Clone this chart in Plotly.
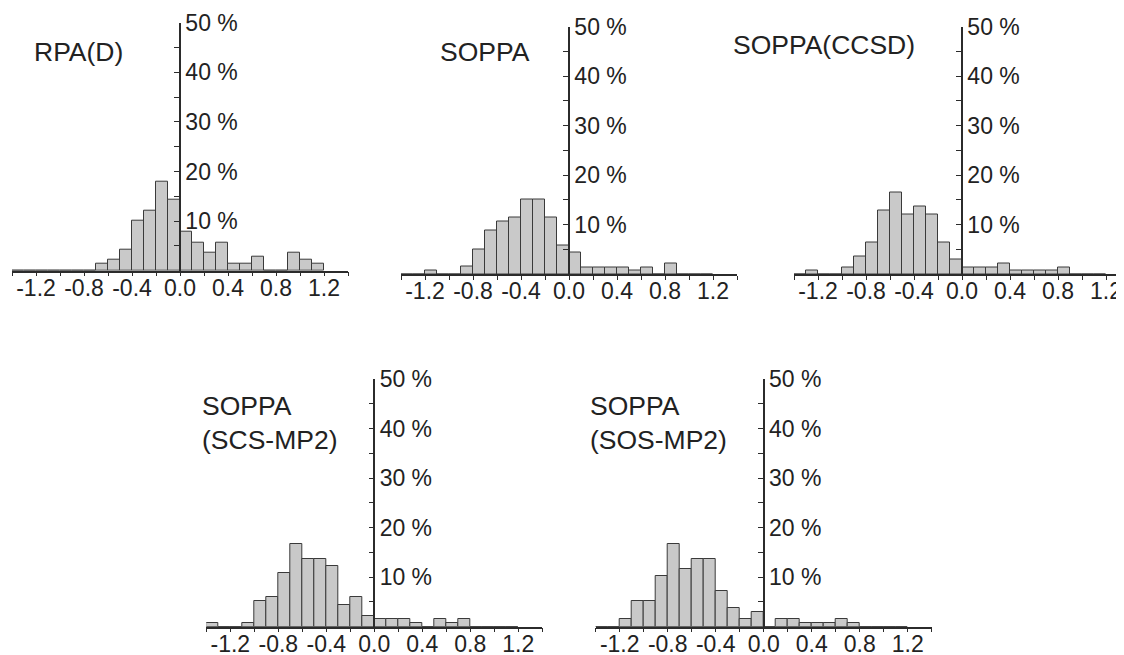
import plotly.graph_objects as go

# Bin centres (bin width 0.1, from -1.4 to 1.2)
BIN_CENTERS = [round(-1.35 + 0.1 * i, 2) for i in range(26)]
BIN_WIDTH = 0.1

TITLES = ["RPA(D)", "SOPPA", "SOPPA(CCSD)", "SOPPA<br>(SCS-MP2)", "SOPPA<br>(SOS-MP2)"]

# percentages per bin
RPA_D = [0, 0, 0, 0, 0, 0, 0, 1.4, 2.2, 4.3, 10.1, 12.1, 17.9, 14.3,
         7.9, 5.7, 3.6, 5.7, 1.4, 1.4, 2.9, 0, 0, 3.7, 2.2, 1.4]
SOPPA = [0, 0, 0.7, 0, 0, 1.5, 5.0, 8.7, 10.7, 11.5, 15.0, 15.0, 11.5, 5.7,
         4.3, 1.4, 1.4, 1.4, 1.4, 0.7, 1.4, 0, 2.1, 0, 0, 0]
SOPPA_CCSD = [0, 0.7, 0, 0, 1.4, 3.6, 6.4, 12.9, 16.5, 12.1, 13.6, 12.1, 6.4, 2.9,
              1.4, 1.4, 1.4, 2.1, 0.7, 0.7, 0.7, 0.7, 1.4, 0, 0, 0]
SOPPA_SCS = [0.8, 0, 0, 0.7, 5.1, 5.9, 10.9, 16.7, 13.7, 13.7, 12.3, 4.4, 5.9, 2.2,
             1.5, 1.5, 1.5, 0.7, 0, 1.5, 0.7, 1.5, 0, 0, 0, 0]
SOPPA_SOS = [0, 0, 1.5, 5.1, 5.1, 10.2, 16.7, 11.6, 13.7, 13.7, 7.3, 3.7, 1.5, 3.0,
             0, 1.5, 1.5, 0.7, 0.7, 0.7, 1.5, 0.7, 0, 0, 0, 0]
SERIES = [RPA_D, SOPPA, SOPPA_CCSD, SOPPA_SCS, SOPPA_SOS]

X_TICKS = [-1.4, -1.2, -1.0, -0.8, -0.6, -0.4, -0.2, 0.0, 0.2, 0.4, 0.6, 0.8, 1.0, 1.2, 1.4]
X_TICKTEXT = ["", "-1.2", "", "-0.8", "", "-0.4", "", "0.0", "", "0.4", "", "0.8", "", "1.2", ""]
Y_TICKS = [0, 5, 10, 15, 20, 25, 30, 35, 40, 45, 50]
Y_TICKTEXT = ["", "", "10 %", "", "20 %", "", "30 %", "", "40 %", "", "50 %"]

# page body has an 8px margin: figure is drawn 8px in from the top-left
OFF = 8
W, H = 1124 - OFF, 655 - OFF
FONT = "Liberation Sans, Arial, sans-serif"
TXT = "#222222"
AX = "#2b2b2b"


def px(v):
    return (v - OFF) / W


def py(v):
    return 1 - (v - OFF) / H


# panel layout in page pixels: (x_left, x_right, y_bottom, y_top, y-axis x px, x range max, title x, title y)
PANELS = [
    (12, 348, 270.7, 22.7, 180, 1.4, 32, 52),
    (401, 737, 274, 26.5, 569, 1.4, 438, 52),
    (794, 1124, 274, 26.5, 962, 1.35, 731, 45),
    (206.3, 542.3, 626.7, 379, 374.3, 1.4, 200, 422.5),
    (595.7, 931.7, 626.7, 379, 763.7, 1.4, 588, 422.5),
]

fig = go.Figure()
layout = dict(
    template="none",
    width=W, height=H,
    margin=dict(l=0, r=0, t=0, b=0, pad=0),
    paper_bgcolor="white", plot_bgcolor="rgba(0,0,0,0)",
    showlegend=False, bargap=0,
    font=dict(family=FONT, size=23, color=TXT),
    annotations=[],
)

for i, (vals, title, p) in enumerate(zip(SERIES, TITLES, PANELS)):
    xl, xr, yb, yt, yaxpx, xmax, tx, ty = p
    n = i + 1
    xa = "x" if n == 1 else f"x{n}"
    ya = "y" if n == 1 else f"y{n}"
    fig.add_trace(go.Bar(
        x=BIN_CENTERS, y=vals, width=BIN_WIDTH,
        marker=dict(color="#c9c9c9", line=dict(color="#3a3a3a", width=1)),
        xaxis=xa, yaxis=ya, hoverinfo="x+y",
    ))
    layout[f"xaxis{n}"] = dict(
        domain=[px(xl), min(1.0, px(xr))], range=[-1.4, xmax], anchor=ya, automargin=False,
        showgrid=False, zeroline=False, showline=True, linecolor=AX, linewidth=1.5,
        ticks="outside", ticklen=4, tickwidth=1, tickcolor=AX,
        tickmode="array", tickvals=X_TICKS, ticktext=X_TICKTEXT,
        ticklabelstandoff=-8,
        tickfont=dict(size=23, color=TXT, family=FONT),
    )
    layout[f"yaxis{n}"] = dict(
        domain=[py(yb), py(yt)], range=[0, 50], automargin=False,
        anchor="free", position=px(yaxpx), side="right",
        showgrid=False, zeroline=False, showline=True, linecolor=AX, linewidth=1.5,
        ticks="inside", ticklen=5, tickwidth=1, tickcolor=AX,
        tickmode="array", tickvals=Y_TICKS, ticktext=Y_TICKTEXT,
        tickfont=dict(size=23, color=TXT, family=FONT),
    )
    layout["annotations"].append(dict(
        text=title, x=px(tx), y=py(ty), xref="paper", yref="paper",
        xanchor="left", yanchor="middle", align="left", showarrow=False,
        font=dict(size=26.5, color=TXT, family=FONT),
    ))

fig.update_layout(**layout)
fig.write_html("out.html")
